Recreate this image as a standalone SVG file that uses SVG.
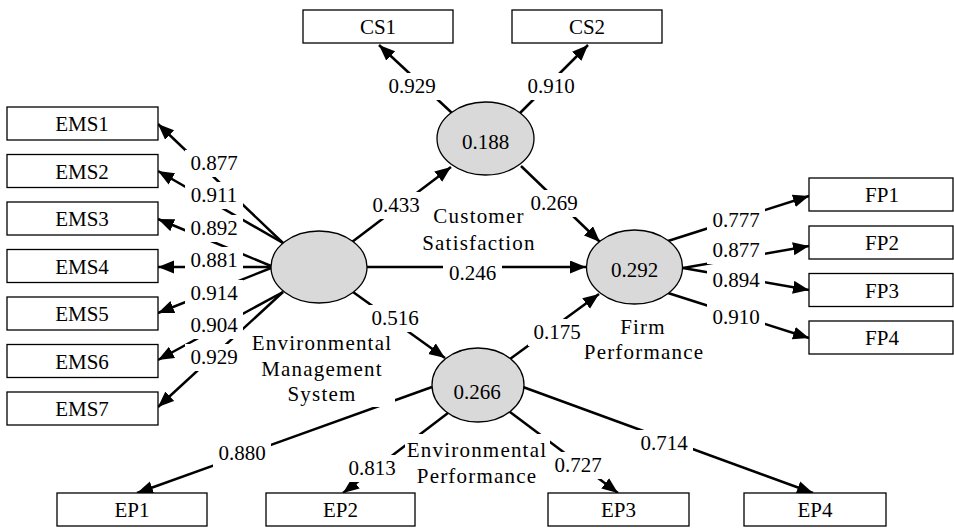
<svg xmlns="http://www.w3.org/2000/svg" width="954" height="528" viewBox="0 0 954 528">
<defs>
<marker id="arr" markerUnits="userSpaceOnUse" markerWidth="17" markerHeight="14" refX="16" refY="6.5" orient="auto" viewBox="0 0 17 14">
<path d="M0,0 L16,6.5 L0,13 z" fill="#000"/>
</marker>
<style>
.box{fill:#fff;stroke:#000;stroke-width:1.3}
.lv{fill:#d9d9d9;stroke:#000;stroke-width:1.3}
.t{font-family:"Liberation Serif","Times New Roman",serif;font-size:21px;fill:#000;text-anchor:middle}
.w{font-family:"Liberation Serif","Times New Roman",serif;font-size:21px;letter-spacing:1.2px;fill:#000;text-anchor:middle}
.n{font-family:"Liberation Serif","Times New Roman",serif;font-size:21px;fill:#000;text-anchor:middle}
.e{stroke:#000;stroke-width:2.5;fill:none;marker-end:url(#arr)}
.bg{fill:#fff}
</style>
</defs>
<rect width="954" height="528" fill="#fff"/>

<g id="connectors">
<line class="e" x1="452" y1="113" x2="379" y2="45"/>
<line class="e" x1="520" y1="113" x2="588" y2="45"/>
<line class="e" x1="352" y1="242" x2="451" y2="167"/>
<line class="e" x1="521" y1="166" x2="600" y2="242"/>
<line class="e" x1="367" y1="267" x2="586" y2="267"/>
<line class="e" x1="353" y1="292" x2="445" y2="358"/>
<line class="e" x1="510" y1="359" x2="599" y2="294"/>
<line class="e" x1="668" y1="241" x2="809" y2="196"/>
<line class="e" x1="683" y1="268" x2="809" y2="246"/>
<line class="e" x1="683" y1="268" x2="809" y2="290"/>
<line class="e" x1="668" y1="293" x2="809" y2="338"/>
<line class="e" x1="283" y1="243" x2="158" y2="124"/>
<line class="e" x1="283" y1="243" x2="158" y2="171"/>
<line class="e" x1="271" y1="266" x2="158" y2="219"/>
<line class="e" x1="271" y1="267" x2="158" y2="267"/>
<line class="e" x1="271" y1="268" x2="158" y2="313"/>
<line class="e" x1="283" y1="292" x2="158" y2="360"/>
<line class="e" x1="283" y1="292" x2="158" y2="407"/>
<line class="e" x1="432" y1="387" x2="137" y2="493"/>
<line class="e" x1="448" y1="413" x2="343" y2="493"/>
<line class="e" x1="510" y1="412" x2="618" y2="493"/>
<line class="e" x1="523" y1="387" x2="813" y2="493"/>
</g>

<g id="CS1"><rect class="box" x="303" y="10" width="150" height="33"/><text class="t" x="378" y="34">CS1</text></g>
<g id="CS2"><rect class="box" x="512" y="10" width="150" height="33"/><text class="t" x="587" y="34">CS2</text></g>

<g id="EMS1"><rect class="box" x="7" y="107" width="151" height="33"/><text class="t" x="82" y="131">EMS1</text></g>
<g id="EMS2"><rect class="box" x="7" y="154.5" width="151" height="33"/><text class="t" x="82" y="178.5">EMS2</text></g>
<g id="EMS3"><rect class="box" x="7" y="202" width="151" height="33"/><text class="t" x="82" y="226">EMS3</text></g>
<g id="EMS4"><rect class="box" x="7" y="249.5" width="151" height="33"/><text class="t" x="82" y="273.5">EMS4</text></g>
<g id="EMS5"><rect class="box" x="7" y="297" width="151" height="33"/><text class="t" x="82" y="321">EMS5</text></g>
<g id="EMS6"><rect class="box" x="7" y="344.5" width="151" height="33"/><text class="t" x="82" y="368.5">EMS6</text></g>
<g id="EMS7"><rect class="box" x="7" y="392" width="151" height="33"/><text class="t" x="82" y="416">EMS7</text></g>

<g id="FP1"><rect class="box" x="809" y="178" width="144" height="33"/><text class="t" x="882" y="202">FP1</text></g>
<g id="FP2"><rect class="box" x="809" y="226" width="144" height="33"/><text class="t" x="882" y="250">FP2</text></g>
<g id="FP3"><rect class="box" x="809" y="273.5" width="144" height="33"/><text class="t" x="882" y="297.5">FP3</text></g>
<g id="FP4"><rect class="box" x="809" y="321" width="144" height="33"/><text class="t" x="882" y="345">FP4</text></g>

<g id="EP1"><rect class="box" x="57" y="493" width="150" height="33"/><text class="t" x="132" y="517">EP1</text></g>
<g id="EP2"><rect class="box" x="266" y="493" width="149" height="33"/><text class="t" x="340.5" y="517">EP2</text></g>
<g id="EP3"><rect class="box" x="548" y="493" width="141" height="33"/><text class="t" x="618.5" y="517">EP3</text></g>
<g id="EP4"><rect class="box" x="744" y="493" width="142" height="33"/><text class="t" x="815" y="517">EP4</text></g>

<g id="EMS">
<ellipse class="lv" cx="319" cy="267" rx="48" ry="36"/>
<rect class="bg" x="247" y="331" width="148" height="76"/>
<text class="w" x="322" y="350">Environmental</text>
<text class="w" x="322" y="376">Management</text>
<text class="w" x="322" y="401">System</text>
</g>

<g id="CS">
<ellipse class="lv" cx="485.5" cy="138.5" rx="48.5" ry="36.5"/>
<text class="n" x="485.5" y="149">0.188</text>
<rect class="bg" x="424" y="204" width="110" height="52"/>
<text class="w" x="479" y="223">Customer</text>
<text class="w" x="479" y="250">Satisfaction</text>
</g>

<g id="FP">
<ellipse class="lv" cx="634.5" cy="267" rx="48" ry="37"/>
<text class="n" x="634.5" y="277">0.292</text>
<text class="w" x="643" y="334">Firm</text>
<text class="w" x="644" y="359">Performance</text>
</g>

<g id="EP">
<ellipse class="lv" cx="478" cy="385" rx="46" ry="37"/>
<text class="n" x="477" y="399">0.266</text>
<rect class="bg" x="405" y="434" width="145" height="54"/>
<text class="w" x="477" y="457">Environmental</text>
<text class="w" x="477" y="483">Performance</text>
</g>

<g id="edge-labels">
<rect class="bg" x="383" y="73" width="58" height="27"/><text class="n" x="412" y="93">0.929</text>
<rect class="bg" x="522" y="73" width="58" height="27"/><text class="n" x="551" y="93">0.910</text>
<rect class="bg" x="367" y="192" width="58" height="27"/><text class="n" x="396" y="212">0.433</text>
<rect class="bg" x="525" y="190" width="58" height="27"/><text class="n" x="554" y="210">0.269</text>
<rect class="bg" x="443" y="259" width="59" height="27"/><text class="n" x="472.5" y="280">0.246</text>
<rect class="bg" x="366" y="305" width="58" height="27"/><text class="n" x="395" y="325">0.516</text>
<rect class="bg" x="528" y="319" width="58" height="27"/><text class="n" x="557" y="339">0.175</text>
<rect class="bg" x="707" y="207" width="58" height="27"/><text class="n" x="736" y="227">0.777</text>
<rect class="bg" x="707" y="237" width="58" height="27"/><text class="n" x="736" y="257">0.877</text>
<rect class="bg" x="707" y="267" width="58" height="27"/><text class="n" x="736" y="287">0.894</text>
<rect class="bg" x="707" y="304" width="58" height="27"/><text class="n" x="736" y="324">0.910</text>
<rect class="bg" x="185" y="150" width="58" height="27"/><text class="n" x="214" y="170">0.877</text>
<rect class="bg" x="185" y="182" width="58" height="27"/><text class="n" x="214" y="202">0.911</text>
<rect class="bg" x="185" y="215" width="58" height="27"/><text class="n" x="214" y="235">0.892</text>
<rect class="bg" x="185" y="247" width="58" height="27"/><text class="n" x="214" y="267">0.881</text>
<rect class="bg" x="185" y="280" width="58" height="27"/><text class="n" x="214" y="300">0.914</text>
<rect class="bg" x="185" y="312" width="58" height="27"/><text class="n" x="214" y="332">0.904</text>
<rect class="bg" x="185" y="344" width="58" height="27"/><text class="n" x="214" y="364">0.929</text>
<rect class="bg" x="213" y="440" width="58" height="27"/><text class="n" x="242" y="460">0.880</text>
<rect class="bg" x="343" y="455" width="58" height="27"/><text class="n" x="372" y="475">0.813</text>
<rect class="bg" x="549" y="452" width="58" height="27"/><text class="n" x="578" y="472">0.727</text>
<rect class="bg" x="635" y="430" width="58" height="27"/><text class="n" x="664" y="450">0.714</text>
</g>
</svg>
